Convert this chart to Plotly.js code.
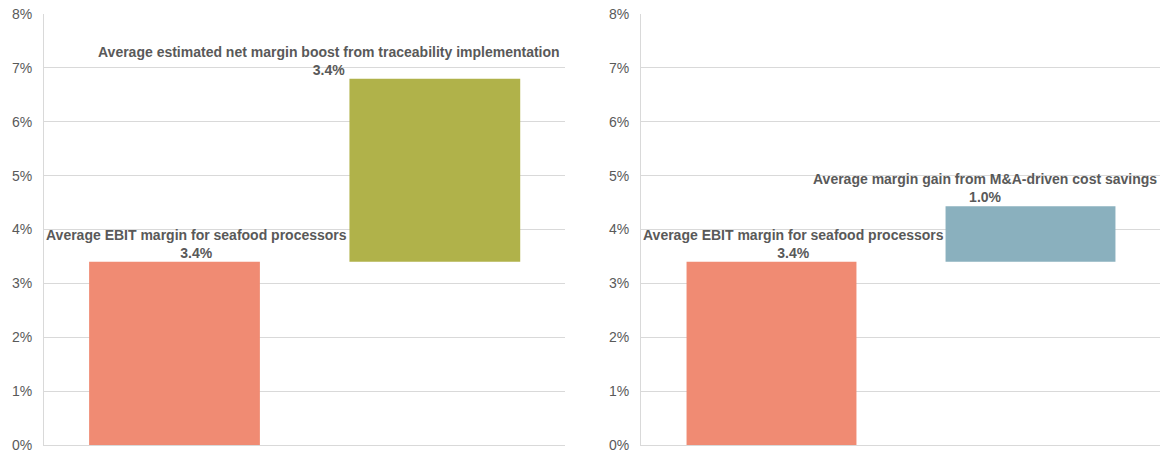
<!DOCTYPE html>
<html>
<head>
<meta charset="utf-8">
<script src="https://cdn.plot.ly/plotly-3.0.1.min.js"></script>
<style>
  html, body { margin: 0; padding: 0; background: #fff; }
  #chart { width: 1164px; height: 452px; }
</style>
</head>
<body>
<div id="chart"></div>
<script>
// left panel: EBIT base + traceability boost
const leftCats = [
  "Average EBIT margin for seafood processors",
  "Average estimated net margin boost from traceability implementation",
];
const leftValues = [3.4, 3.4];
const leftColors = ["#F08B73", "#B0B24A"];

// right panel: EBIT base + M&A savings
const rightCats = [
  "Average EBIT margin for seafood processors",
  "Average margin gain from M&A-driven cost savings",
];
const rightValues = [3.4, 1.03];
const rightColors = ["#F08B73", "#8AB0BE"];

const yTicks = [0, 1, 2, 3, 4, 5, 6, 7, 8];

// label offsets as Excel placed them (px)
const leftShift = [22, -106];
const rightShift = [22, -46];

const bases = (vals) => vals.map((v, i) => (i === 0 ? 0 : vals[0]));

const grey = "#595959";
const font = "Liberation Sans, Arial, sans-serif";

const makeTrace = (cats, vals, colors, xa, ya) => ({
  type: "bar",
  x: cats,
  y: vals,
  base: bases(vals),
  marker: { color: colors },
  xaxis: xa,
  yaxis: ya,
  hoverinfo: "skip",
  showlegend: false,
});

const makeNotes = (cats, vals, shifts, xref, yref) =>
  cats.map((c, i) => ({
    x: c,
    y: bases(vals)[i] + vals[i],
    xref,
    yref,
    text: "<b>" + c + "</b><br><b>" + vals[i].toFixed(1) + "%</b>",
    showarrow: false,
    yanchor: "bottom",
    xanchor: "center",
    xshift: shifts[i],
    yshift: -1,
    font: { family: font, size: 14, color: grey },
  }));

const yAxis = (anchor) => ({
  anchor,
  range: [0, 8],
  tickvals: yTicks,
  ticktext: yTicks.map((t) => t + "%"),
  showgrid: true,
  gridcolor: "#d9d9d9",
  showline: true,
  linecolor: "#d9d9d9",
  zeroline: false,
  ticks: "",
  ticklabelstandoff: 8,
  ticklabeloverflow: "allow",
  tickfont: { family: font, size: 14, color: grey },
  fixedrange: true,
});

const xAxis = (domain, anchor) => ({
  domain,
  anchor,
  showticklabels: false,
  showline: true,
  linecolor: "#d9d9d9",
  ticks: "",
  fixedrange: true,
});

const data = [
  makeTrace(leftCats, leftValues, leftColors, "x", "y"),
  makeTrace(rightCats, rightValues, rightColors, "x2", "y2"),
];

const layout = {
  width: 1164,
  height: 452,
  margin: { l: 0, r: 0, t: 14, b: 7 },
  paper_bgcolor: "#fff",
  plot_bgcolor: "#fff",
  bargap: 0.344,
  xaxis: xAxis([44 / 1164, 565 / 1164], "y"),
  yaxis: yAxis("x"),
  xaxis2: xAxis([641 / 1164, 1160 / 1164], "y2"),
  yaxis2: yAxis("x2"),
  annotations: [
    ...makeNotes(leftCats, leftValues, leftShift, "x", "y"),
    ...makeNotes(rightCats, rightValues, rightShift, "x2", "y2"),
  ],
};

Plotly.newPlot("chart", data, layout, { displayModeBar: false, staticPlot: true });
</script>
</body>
</html>
